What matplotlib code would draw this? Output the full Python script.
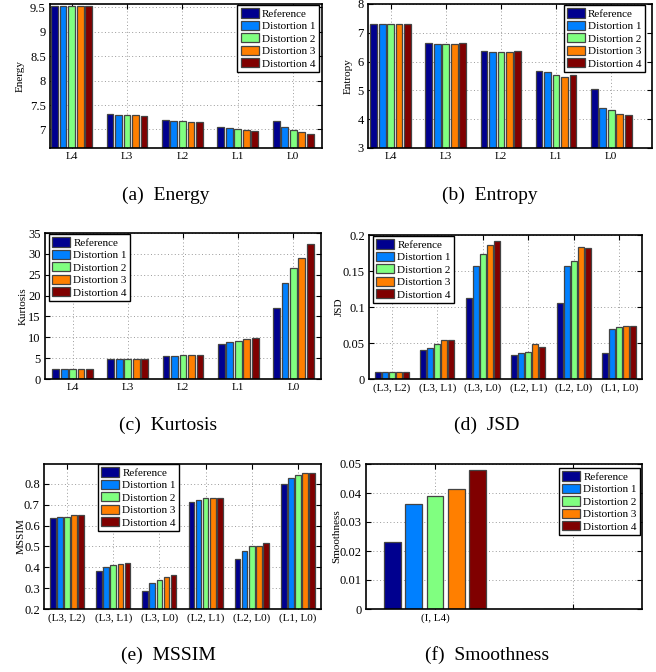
import matplotlib
matplotlib.use("Agg")
import matplotlib.pyplot as plt
import numpy as np

plt.rcParams['font.family'] = ['Liberation Serif', 'DejaVu Serif']

series = ["Reference", "Distortion 1", "Distortion 2", "Distortion 3", "Distortion 4"]
colors = ["#00008F", "#0080FF", "#80FF80", "#FF7F00", "#800000"]

levels = ["L4", "L3", "L2", "L1", "L0"]
pairs = ["(L3, L2)", "(L3, L1)", "(L3, L0)", "(L2, L1)", "(L2, L0)", "(L1, L0)"]
smooth_cats = ["(I, L4)", ""]

# values[group][series]
energy = [[9.53, 9.53, 9.53, 9.53, 9.53],
          [7.31, 7.30, 7.29, 7.30, 7.285],
          [7.19, 7.175, 7.175, 7.16, 7.15],
          [7.055, 7.02, 7.00, 6.98, 6.965],
          [7.18, 7.045, 6.99, 6.95, 6.90]]
entropy = [[7.32, 7.31, 7.31, 7.32, 7.29],
           [6.63, 6.62, 6.62, 6.61, 6.63],
           [6.36, 6.35, 6.32, 6.35, 6.36],
           [5.68, 5.65, 5.55, 5.48, 5.52],
           [5.05, 4.40, 4.31, 4.19, 4.14]]
kurtosis = [[2.4, 2.4, 2.4, 2.4, 2.4],
            [4.7, 4.75, 4.7, 4.75, 4.75],
            [5.5, 5.6, 5.75, 5.7, 5.75],
            [8.4, 8.8, 9.1, 9.5, 9.9],
            [17.0, 23.0, 26.6, 29.0, 32.3]]
jsd = [[0.0095, 0.0095, 0.0095, 0.0095, 0.0095],
       [0.040, 0.0427, 0.0483, 0.0548, 0.0548],
       [0.1123, 0.1573, 0.1736, 0.1856, 0.1912],
       [0.0334, 0.0362, 0.0376, 0.0487, 0.045],
       [0.1058, 0.1564, 0.1643, 0.1833, 0.1814],
       [0.0362, 0.0696, 0.0724, 0.0733, 0.0742]]
mssim = [[0.637, 0.642, 0.643, 0.650, 0.650],
         [0.384, 0.402, 0.410, 0.418, 0.421],
         [0.288, 0.325, 0.341, 0.354, 0.363],
         [0.712, 0.723, 0.731, 0.731, 0.731],
         [0.442, 0.478, 0.501, 0.504, 0.514],
         [0.800, 0.827, 0.843, 0.853, 0.853]]
smoothness = [[0.0231, 0.0363, 0.0390, 0.0413, 0.0480],
              [0.0, 0.0, 0.0, 0.0, 0.0]]

W, H = 656, 672
fig = plt.figure(figsize=(W / 100, H / 100), dpi=100)


def px_axes(x0, y0, x1, y1):
    return fig.add_axes([x0 / W, 1 - y1 / H, (x1 - x0) / W, (y1 - y0) / H])


def draw(ax, data, cats, ylim, yticks, ylabels, xlim, ylabel, ylab_x,
         leg_loc, leg_anchor, tick_fs=8, ylab_fs=8):
    data = np.asarray(data)
    n = len(series)
    pitch = (n / (n + 1.5)) / n
    xs = np.arange(1, len(cats) + 1)
    for i in range(n):
        ax.bar(xs + (i - (n - 1) / 2) * pitch, data[:, i], width=0.8 * pitch,
               color=colors[i], edgecolor="#444444", linewidth=0.9,
               label=series[i], zorder=2)
    ax.set_xlim(*xlim)
    ax.set_ylim(*ylim)
    ax.set_xticks(xs)
    ax.set_xticklabels(cats, fontsize=tick_fs)
    ax.set_yticks(yticks)
    ax.set_yticklabels(ylabels, fontsize=tick_fs + 1)
    ax.set_axisbelow(True)
    ax.grid(True, linestyle=(0, (1, 2.5)), color="#9a9a9a", linewidth=0.7)
    ax.tick_params(direction="in", top=True, right=True, length=3.5,
                   width=0.8, pad=3)
    for s in ax.spines.values():
        s.set_linewidth(1.2)
    ax.set_ylabel(ylabel, fontsize=ylab_fs)
    bb = ax.get_position()
    ax.yaxis.set_label_coords(((ylab_x + 5.5) / W - bb.x0) / bb.width, 0.5)
    leg = ax.legend(loc=leg_loc, bbox_to_anchor=leg_anchor, borderaxespad=0,
                    fontsize=8, fancybox=False, framealpha=1,
                    edgecolor="black", handlelength=1.6, handleheight=0.9,
                    labelspacing=0.18, handletextpad=0.3, borderpad=0.3)
    leg.get_frame().set_linewidth(1.0)
    leg.set_zorder(5)
    for p in leg.get_patches():
        p.set_edgecolor("#444444")


def fmt(vals):
    return ["%g" % v for v in vals]


ax_a = px_axes(50, 4, 322, 148)
draw(ax_a, energy, levels, (6.62, 9.57), [7, 7.5, 8, 8.5, 9, 9.5],
     fmt([7, 7.5, 8, 8.5, 9, 9.5]), (0.61, 5.52), "Energy", 19,
     "upper right", (0.988, 0.993))

ax_b = px_axes(368, 4, 652, 148)
draw(ax_b, entropy, levels, (3, 8), [3, 4, 5, 6, 7, 8],
     fmt([3, 4, 5, 6, 7, 8]), (0.59, 5.74), "Entropy", 347,
     "upper right", (0.975, 0.993))

ax_c = px_axes(45, 233, 321, 379)
draw(ax_c, kurtosis, levels, (0, 35), list(range(0, 36, 5)),
     fmt(range(0, 36, 5)), (0.5, 5.5), "Kurtosis", 22,
     "upper left", (0.0145, 0.993))

ax_d = px_axes(369, 235, 642, 379)
draw(ax_d, jsd, pairs, (0, 0.2), [0, 0.05, 0.1, 0.15, 0.2],
     fmt([0, 0.05, 0.1, 0.15, 0.2]), (0.5, 6.5), "JSD", 338,
     "upper left", (0.0147, 0.993))

ax_e = px_axes(44, 464, 321, 609)
draw(ax_e, mssim, pairs, (0.2, 0.895), [0.2, 0.3, 0.4, 0.5, 0.6, 0.7, 0.8],
     fmt([0.2, 0.3, 0.4, 0.5, 0.6, 0.7, 0.8]), (0.5, 6.5), "MSSIM", 20,
     "upper left", (0.195, 1.0))

ax_f = px_axes(366, 464, 642, 609)
draw(ax_f, smoothness, smooth_cats, (0, 0.05),
     [0, 0.01, 0.02, 0.03, 0.04, 0.05],
     fmt([0, 0.01, 0.02, 0.03, 0.04, 0.05]), (0.5, 2.5), "Smoothness", 336,
     "upper right", (0.993, 0.972))

captions = [("(a)  Energy", 166, 195), ("(b)  Entropy", 490, 195),
            ("(c)  Kurtosis", 168, 425), ("(d)  JSD", 487, 425),
            ("(e)  MSSIM", 168, 655), ("(f)  Smoothness", 487, 655)]
for txt, cx, cy in captions:
    fig.text(cx / W, 1 - cy / H, txt, ha="center", va="center", fontsize=14)

fig.savefig("out.png", dpi=100)
